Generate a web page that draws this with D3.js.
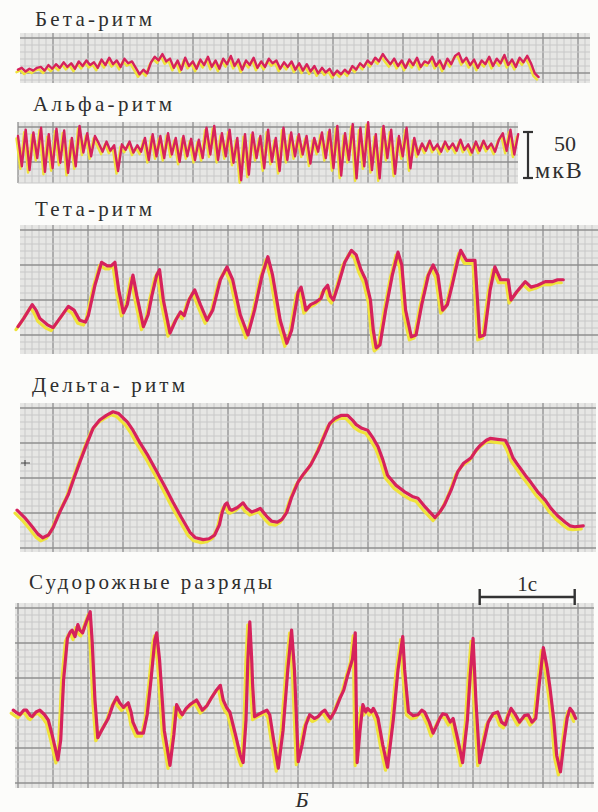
<!DOCTYPE html>
<html>
<head>
<meta charset="utf-8">
<script src="https://cdn.jsdelivr.net/npm/d3@7"></script>
<style>
  body { margin: 0; background: #fcfcfa; }
  svg text { font-family: "Liberation Serif", "DejaVu Serif", serif; fill: #2e2e2e; }
</style>
</head>
<body>
<svg id="chart" width="598" height="812"></svg>
<script>
// --- данные: время в секундах, амплитуда в мкВ ---
const titles = ["Бета-ритм", "Альфа-ритм", "Тета-ритм", "Дельта- ритм", "Судорожные разряды"];

// бета и альфа: равномерные отсчёты
const betaDt = 0.04;
const betaUv = [-4,-2,-6,-3,-5,-2, -1,-5,1,-3,2,-2,4,-1,3,-3,5,0,6,1,4,-2, 7,1,9,2,6,-1,8,3,5,
  -2,-9,-4,-8, 4,10,6,13,5,
  8,-2,6,-4,9,0,5,-3,7,1,10,-1,6,-3,8,2,11,0,7,-4,6,1,9,-2,5,-1,8,3,6,-3,4,-1,5,-4,
  3,-5,2,-6,0,-8,-2,-7,-3,-10,-5,-9, -4,-8,0,-4,3,-1,6,2,9,5,13,7,
  2,8,0,6,-2,7,1,9,-1,5,3,10,0,6,-3,8,2,11,14,4,9,1,7,-2,6,2,10,0,8,3,12,1,7,-1,9,4,11,3, -8,-12];

const alphaDt = 0.0405;
const alphaUv = [13,-20,20,-24,17,-11,22,-26,15,-22,21,-16,19,-27,11,-20,
  24,-5,16,-9,13,
  5,-4,7,-3,3,-25,4,-2,7,-5,3,-4,
  11,-13,15,-9,13,-11,16,-7,11,-15,13,-9,10,-13,
  9,-11,22,-7,24,-13,16,-9,20,-16,11,-35,15,-29,17,-11,13,-22,20,-15,11,-25,22,-13,17,-9,
  15,-7,13,-17,11,-4,17,-11,
  20,-22,24,-30,16,-13,26,-33,22,-20,28,-24,15,-33,24,-11,20,-28,13,-9,22,-22,11,-7,
  5,-3,8,-2,4,-4,7,-1,5,-3,9,-2,4,-5,7,-3,8,-1,5,-4,9,
  16,-3,20,-7,15];

const thetaT = [0,0.06,0.15,0.19,0.23,0.31,0.37,0.44,0.53,0.59,0.65,0.71,0.74,0.81,0.88,0.94,0.98,1.02,1.06,1.11,
  1.15,1.21,1.25,1.32,1.37,1.41,1.46,1.49,1.53,1.60,1.66,1.71,1.75,1.80,1.86,1.92,1.99,2.05,2.13,2.20,
  2.26,2.34,2.42,2.49,2.57,2.63,2.68,2.76,2.83,2.88,2.95,2.98,3.01,3.03,3.08,3.14,3.19,3.22,3.26,3.29,
  3.32,3.37,3.44,3.51,3.56,3.61,3.66,3.71,3.74,3.77,3.81,3.87,3.94,4.00,4.04,4.08,4.14,4.19,4.25,4.32,
  4.37,4.42,4.47,4.52,4.57,4.63,4.66,4.72,4.81,4.83,4.86,4.91,4.97,5.02,5.08,5.16,5.19,5.25,5.34,5.40,
  5.47,5.55,5.63,5.68,5.74];
const thetaUv = [-29,-20,-5,-11,-20,-27,-30,-20,-7,-11,-22,-24,-17,16,41,37,37,41,11,-14,
  -5,27,5,-29,-16,5,27,33,0,-36,-22,-13,-17,0,11,-5,-22,-11,22,36,
  22,-16,-38,-11,27,47,27,-22,-47,-33,9,14,0,-11,-5,-2,2,11,16,4,
  0,16,41,54,49,33,22,0,-33,-52,-49,-11,27,52,38,-11,-40,-38,-5,27,
  38,27,-11,-5,16,43,54,43,43,11,-40,-38,11,36,22,22,0,9,20,14,
  16,20,20,22,22];

const deltaT = [-0.01,0.03,0.07,0.15,0.21,0.26,0.32,0.37,0.44,0.53,0.59,0.65,0.72,0.79,0.86,0.93,1.00,1.06,1.15,1.21,
  1.28,1.37,1.46,1.55,1.63,1.72,1.81,1.87,1.95,2.01,2.07,2.12,2.15,2.18,2.20,2.23,2.25,2.31,2.37,2.41,
  2.46,2.51,2.55,2.59,2.62,2.67,2.73,2.78,2.83,2.88,2.95,3.01,3.08,3.16,3.23,3.28,3.34,3.40,3.47,3.52,
  3.56,3.62,3.68,3.74,3.79,3.84,3.89,3.98,4.07,4.15,4.21,4.29,4.39,4.44,4.49,4.56,4.63,4.69,4.77,4.82,
  4.87,4.93,4.97,5.05,5.13,5.17,5.21,5.27,5.34,5.40,5.47,5.55,5.61,5.68,5.76,5.81,5.86,5.95];
const deltaUv = [-35,-39,-43,-53,-61,-65,-62,-54,-37,-18,0,17,36,54,63,68,72,70,61,52,
  39,24,7,-10,-26,-43,-59,-65,-67,-66,-62,-51,-37,-29,-27,-34,-35,-32,-27,-33,
  -37,-35,-33,-38,-42,-47,-48,-45,-37,-21,-4,5,14,30,47,59,65,68,68,63,
  58,54,52,43,34,20,3,-8,-15,-20,-22,-32,-43,-37,-29,-13,7,16,22,30,
  36,41,43,42,41,33,22,13,3,-5,-15,-24,-33,-41,-48,-52,-53,-52];

const seizT = [-0.05,-0.01,0.02,0.06,0.09,0.13,0.15,0.19,0.23,0.28,0.32,0.36,0.40,0.42,0.45,0.48,0.52,0.55,0.57,0.60,
  0.63,0.65,0.68,0.72,0.76,0.78,0.81,0.84,0.88,0.95,1.00,1.04,1.07,1.11,1.16,1.19,1.21,1.26,1.32,1.36,
  1.40,1.44,1.46,1.49,1.54,1.60,1.64,1.67,1.71,1.73,1.77,1.81,1.88,1.94,1.99,2.04,2.09,2.13,2.16,2.20,
  2.23,2.29,2.34,2.37,2.40,2.42,2.44,2.46,2.47,2.49,2.54,2.58,2.62,2.65,2.69,2.74,2.79,2.84,2.88,2.91,
  2.95,2.99,3.03,3.07,3.12,3.16,3.20,3.23,3.26,3.29,3.34,3.39,3.43,3.47,3.52,3.55,3.56,3.57,3.60,3.63,
  3.66,3.68,3.72,3.74,3.77,3.79,3.84,3.89,3.95,4.00,4.05,4.07,4.11,4.16,4.21,4.25,4.28,4.33,4.37,4.41,
  4.44,4.47,4.51,4.55,4.58,4.63,4.68,4.73,4.76,4.79,4.82,4.86,4.91,4.95,5.00,5.05,5.09,5.13,5.16,5.19,
  5.23,5.28,5.33,5.37,5.41,5.45,5.48,5.53,5.57,5.60,5.64,5.67,5.71,5.75,5.78,5.81,5.84,5.87];
const seizUv = [2,-1,-3,2,2,-4,-5,0,2,-3,-9,-25,-43,-52,-30,35,80,87,89,82,
  95,89,86,98,109,78,13,-28,-20,-7,8,16,10,5,10,0,-11,-23,-23,-3,
  35,78,86,57,-20,-58,-25,8,0,-3,4,8,13,2,7,16,24,29,13,4,
  0,-25,-47,-55,-9,57,98,57,29,-5,-2,0,2,-3,-30,-61,-20,46,89,46,
  -54,-36,-14,-3,-7,-5,0,2,-3,-7,2,15,24,40,57,86,13,-55,-20,8,
  0,4,0,4,-2,-7,-36,-60,-9,46,82,46,0,-4,-3,2,0,-11,-23,-14,
  -7,-2,-3,-11,-7,-30,-55,-9,40,80,13,-55,-30,-11,-2,0,-11,-14,-4,4,
  -2,-11,-4,-3,-11,-7,24,70,48,26,-9,-47,-65,-30,-7,4,0,-7];

const scaleUv = 50;   // калибровка, мкВ
const scaleSec = 1;   // калибровка, с

// --- оформление ---
const svg = d3.select("#chart");
const RED = "#d6225c", YELLOW = "#efe23a";

// общая шкала времени: 1 с = 95 px
const x = d3.scaleLinear().domain([0, 1]).range([18, 113]);
const pxPerUv = 46 / 50;

const panels = [
  { title: titles[0], tx: 35, ty: 26, tw: 117, box: [20, 590, 33, 83], base: 66, w: 2.4, sh: [-1.5, 2.5],
    data: betaUv.map((v, i) => [i * betaDt, v]) },
  { title: titles[1], tx: 33, ty: 111, tw: 139, box: [18, 518, 122, 183], base: 148, w: 2.4, sh: [-1.5, 2.5],
    data: alphaUv.map((v, i) => [i * alphaDt, v]) },
  { title: titles[2], tx: 35, ty: 216, tw: 117, box: [20, 598, 225, 354], base: 300, w: 3.2, sh: [-2, 3],
    data: d3.zip(thetaT, thetaUv) },
  { title: titles[3], tx: 32, ty: 392, tw: 153, box: [20, 596, 403, 552], base: 478, w: 3.2, sh: [-2, 3],
    data: d3.zip(deltaT, deltaUv) },
  { title: titles[4], tx: 29, ty: 589, tw: 243, box: [15, 594, 603, 788], base: 712, w: 3.2, sh: [-2, 3],
    data: d3.zip(seizT, seizUv) }
];

function drawGrid(g, b) {
  const [x0, x1, y0, y1] = b;
  g.append("rect").attr("x", x0).attr("y", y0).attr("width", x1 - x0).attr("height", y1 - y0)
    .attr("fill", "#e6e6e4");
  const vk = d3.range(Math.ceil((x0 - 18) / 7), Math.floor((x1 - 18) / 7) + 1);
  const hk = d3.range(0, Math.floor((y1 - y0 - 5) / 7) + 1);
  const isMaj = k => ((k % 5) + 5) % 5 === 0;
  g.selectAll(null).data(vk).join("line")
    .attr("x1", k => 18 + 7 * k).attr("x2", k => 18 + 7 * k).attr("y1", y0).attr("y2", y1)
    .attr("stroke", k => isMaj(k) ? "#8f8f8f" : "#c8c8c8")
    .attr("stroke-width", k => isMaj(k) ? 1.3 : 1);
  g.selectAll(null).data(hk).join("line")
    .attr("y1", k => y0 + 5 + 7 * k).attr("y2", k => y0 + 5 + 7 * k).attr("x1", x0).attr("x2", x1)
    .attr("stroke", k => isMaj(k) ? "#8f8f8f" : "#c8c8c8")
    .attr("stroke-width", k => isMaj(k) ? 1.3 : 1);
}

panels.forEach(p => {
  const g = svg.append("g");
  drawGrid(g, p.box);

  g.append("text").attr("x", p.tx).attr("y", p.ty).attr("font-size", 21)
    .attr("textLength", p.tw).attr("lengthAdjust", "spacing").text(p.title);

  const y = d3.scaleLinear().domain([0, 50]).range([p.base, p.base - 50 * pxPerUv]);
  const line = d3.line().x(d => x(d[0])).y(d => y(d[1]));

  g.append("path").datum(p.data).attr("d", line)
    .attr("transform", `translate(${p.sh[0]},${p.sh[1]})`)
    .attr("fill", "none").attr("stroke", YELLOW).attr("stroke-width", p.w)
    .attr("stroke-linejoin", "round").attr("stroke-linecap", "round");
  g.append("path").datum(p.data).attr("d", line)
    .attr("fill", "none").attr("stroke", RED).attr("stroke-width", p.w)
    .attr("stroke-linejoin", "round").attr("stroke-linecap", "round");
});

// отметка на ленте дельта-ритма
svg.append("path").attr("d", "M21,463H30M25,460V466").attr("stroke", "#444").attr("stroke-width", 1);

// калибровка амплитуды
const cal = svg.append("g").attr("stroke", "#333").attr("stroke-width", 2.2);
const calBottom = 178, calTop = calBottom - scaleUv * pxPerUv;
cal.append("line").attr("x1", 528).attr("x2", 528).attr("y1", calTop).attr("y2", calBottom);
cal.append("line").attr("x1", 523).attr("x2", 533).attr("y1", calTop).attr("y2", calTop);
cal.append("line").attr("x1", 523).attr("x2", 533).attr("y1", calBottom).attr("y2", calBottom);
svg.append("text").attr("x", 565).attr("y", 151).attr("font-size", 22).attr("text-anchor", "middle")
  .text(scaleUv);
svg.append("text").attr("x", 535).attr("y", 178).attr("font-size", 24)
  .attr("letter-spacing", 2).text("мкВ");

// калибровка времени
const t0 = 4.86;
const tb = svg.append("g").attr("stroke", "#333").attr("stroke-width", 2.4);
tb.append("line").attr("x1", x(t0)).attr("x2", x(t0 + scaleSec)).attr("y1", 597).attr("y2", 597);
tb.append("line").attr("x1", x(t0)).attr("x2", x(t0)).attr("y1", 589).attr("y2", 605);
tb.append("line").attr("x1", x(t0 + scaleSec)).attr("x2", x(t0 + scaleSec)).attr("y1", 589).attr("y2", 605);
svg.append("text").attr("x", x(t0 + scaleSec / 2)).attr("y", 591).attr("font-size", 21)
  .attr("text-anchor", "middle").text(scaleSec + "с");

// подпись рисунка
svg.append("text").attr("x", 302).attr("y", 807).attr("font-size", 22).attr("font-style", "italic")
  .attr("text-anchor", "middle").text("Б");
</script>
</body>
</html>
